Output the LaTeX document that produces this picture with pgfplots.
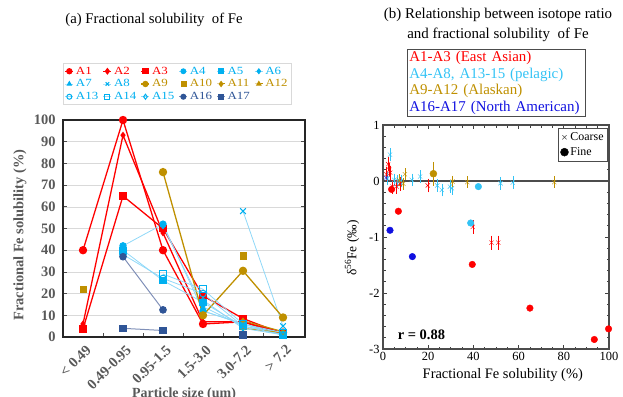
\documentclass[border=0pt]{standalone}
\usepackage{fontspec}
\setmainfont{Liberation Serif}
\newfontfamily\wide[FakeStretch=1.18]{Liberation Serif}
\usepackage{pgfplots}
\pgfplotsset{compat=1.18}
\definecolor{redc}{HTML}{FF0000}
\definecolor{cyanM}{HTML}{00B0F0}
\definecolor{cyanL}{HTML}{8FD8F8}
\definecolor{goldc}{HTML}{BF9000}
\definecolor{navyc}{HTML}{2F5597}
\definecolor{navyL}{HTML}{8090B8}
\definecolor{bluer}{HTML}{1010E0}
\definecolor{tickgray}{HTML}{595959}
\definecolor{cyanT}{HTML}{33C3F5}
\begin{document}
\begin{tikzpicture}
\useasboundingbox (0,0) rectangle (623bp,-397bp);
% ---------------- left panel ----------------
\node[font=\fontsize{14.8}{16}\selectfont] at (154bp,-20bp) {(a) Fractional solubility\ \ of Fe};
\begin{axis}[
  at={(63bp,-337bp)}, anchor=south west, scale only axis,
  width=242bp, height=217bp,
  xmin=-0.5, xmax=5.55, ymin=0, ymax=100,
  xtick={0,...,5},
  xticklabels={< 0.49, 0.49-0.95, 0.95-1.5, 1.5-3.0, 3.0-7.2, > 7.2},
  major x tick style={draw=none},
  minor xtick={0.5,1.5,2.5,3.5,4.5},
  xtick pos=lower,
  ytick={0,10,...,100},
  ymajorgrids, grid style={black!15, line width=0.6pt},
  tick align=inside,
  tick style={black!70, line width=0.8pt},
  major tick length=4bp, minor tick length=4bp,
  axis line style={line width=1.3pt, black!85},
  /pgf/number format/assume math mode=true,
  x tick label style={rotate=45, anchor=north east, xshift=0bp, yshift=-3bp, font=\bfseries\fontsize{14.5}{15}\selectfont, text=tickgray},
  y tick label style={xshift=-4bp, font=\bfseries\fontsize{14.5}{15}\selectfont, text=tickgray},
  xlabel={Particle size (um)},
  xlabel style={font=\bfseries\fontsize{14}{15}\selectfont, text=tickgray, at={(axis description cs:0.5,-0.22)}, anchor=north},
  ylabel={Fractional Fe solubility (\%)},
  ylabel style={font=\bfseries\fontsize{14.5}{16}\selectfont, text=tickgray, at={(axis description cs:-0.178,0.47)}, anchor=center, rotate=0},
  unbounded coords=jump,
  clip=false,
  legend columns=6,
  legend style={at={(0,1.07)}, anchor=south west, draw=black!15, fill=white,
    font=\fontsize{11}{11}\selectfont\wide, inner sep=1.5bp, row sep=0bp,
    /tikz/every odd column/.append style={column sep=0bp},
    /tikz/every even column/.append style={column sep=2.5bp}},
  legend cell align=left,
  legend image code/.code={\draw[mark repeat=2,mark phase=2,mark size=2.5bp] plot coordinates {(0bp,0bp) (4bp,0bp) (8bp,0bp)};},
]
% A1
\addplot[redc, line width=1.3pt, mark=*, mark size=3.5bp] coordinates {(0,40)(1,100)(2,40)(3,6)(4,7)(5,2)};
\addlegendentry{\textcolor{redc}{A1}}
% A2
\addplot[redc, line width=1.3pt, mark=diamond*, mark size=2.5bp] coordinates {(0,6)(1,93)(2,48)(3,7)(4,7)(5,1)};
\addlegendentry{\textcolor{redc}{A2}}
% A3
\addplot[redc, line width=1.3pt, mark=square*, mark size=3.3bp] coordinates {(0,3.7)(1,65)(2,50)(3,19)(4,8.5)(5,1.5)};
\addlegendentry{\textcolor{redc}{A3}}
% A4
\addplot[cyanL, line width=0.8pt, mark=*, mark size=3.3bp, mark options={cyanM}] coordinates {(1,42)(2,52)(3,12)(4,6)(5,1)};
\addlegendentry{\textcolor{cyanM}{A4}}
% A5
\addplot[cyanL, line width=0.8pt, mark=square*, mark size=3.3bp, mark options={cyanM}] coordinates {(1,40)(2,26)(3,16)(4,5)(5,1)};
\addlegendentry{\textcolor{cyanM}{A5}}
% A6
\addplot[cyanL, line width=0.8pt, mark=diamond*, mark size=2.5bp, mark options={cyanM}] coordinates {(2,51)(3,14)(4,5)(5,2)};
\addlegendentry{\textcolor{cyanM}{A6}}
% A7
\addplot[cyanL, line width=0.8pt, mark=triangle*, mark size=2.5bp, mark options={cyanM}] coordinates {(3,12)(4,6)(5,1)};
\addlegendentry{\textcolor{cyanM}{A7}}
% A8
\addplot[cyanL, line width=0.8pt, mark=x, mark size=4bp, mark options={cyanM, line width=1pt}] coordinates {(4,58)(5,5)};
\addlegendentry{\textcolor{cyanM}{A8}}
% A9
\addplot[goldc, line width=1.3pt, mark=*, mark size=3.5bp] coordinates {(2,76)(3,10)(4,30.5)(5,9)};
\addlegendentry{\textcolor{goldc}{A9}}
% A10
\addplot[goldc, only marks, mark=square*, mark size=3.3bp] coordinates {(0,22)(4,37.5)};
\addlegendentry{\textcolor{goldc}{A10}}
% A11
\addplot[goldc, line width=1pt, mark=diamond*, mark size=2.5bp] coordinates {(4,7.5)(5,2.5)};
\addlegendentry{\textcolor{goldc}{A11}}
% A12
\addplot[goldc, line width=1pt, mark=triangle*, mark size=2.5bp] coordinates {(4,4)(5,2)};
\addlegendentry{\textcolor{goldc}{A12}}
% A13
\addplot[cyanL, line width=0.8pt, mark=o, mark size=3.3bp, mark options={cyanM, fill=white, line width=1pt}] coordinates {(1,38)(2,27)(3,20)(4,5)(5,1)};
\addlegendentry{\textcolor{cyanM}{A13}}
% A14
\addplot[cyanL, line width=0.8pt, mark=square, mark size=3.3bp, mark options={cyanM, fill=white, line width=1pt}] coordinates {(2,29)(3,22)(4,6)(5,2)};
\addlegendentry{\textcolor{cyanM}{A14}}
% A15
\addplot[cyanL, line width=0.8pt, mark=diamond, mark size=2.8bp, mark options={cyanM, fill=white, line width=1pt}] coordinates {(3,17)(4,4)(5,1)};
\addlegendentry{\textcolor{cyanM}{A15}}
% A16
\addplot[navyL, line width=1pt, mark=*, mark size=3.3bp, mark options={navyc}] coordinates {(1,37)(2,12.5)};
\addlegendentry{\textcolor{navyc}{A16}}
% A17
\addplot[navyL, line width=1pt, mark=square*, mark size=3.3bp, mark options={navyc}] coordinates {(1,4)(2,3)(3,nan)(4,1)};
\addlegendentry{\textcolor{navyc}{A17}}
\end{axis}
% ---------------- right panel ----------------
\node[font=\fontsize{15}{19.5}\selectfont, align=center] at (498bp,-25bp) {(b) Relationship between isotope ratio\\and fractional solubility\ \ of Fe};
\node[draw=black!70, line width=0.8pt, align=left, anchor=north west, inner sep=2bp,
      font=\fontsize{15}{16.5}\selectfont, text width=174bp] at (407bp,-49bp)
  {\textcolor{redc}{A1-A3 (East Asian)}\\
   \textcolor{cyanT}{A4-A8, A13-15 (pelagic)}\\
   \textcolor{goldc}{A9-A12 (Alaskan)}\\
   \textcolor{bluer}{\mbox{A16-A17 (North American)}}};
\begin{axis}[
  at={(383bp,-349bp)}, anchor=south west, scale only axis,
  width=226bp, height=224bp,
  xmin=0, xmax=100, ymin=-3, ymax=1,
  xtick={0,20,...,100}, ytick={-3,-2,-1,0,1},
  minor x tick num=3, minor y tick num=4,
  tick align=inside,
  tick style={black!75, line width=0.8pt},
  major tick length=4bp, minor tick length=2.5bp,
  axis line style={line width=1.3pt, black!70},
  /pgf/number format/assume math mode=true,
  tick label style={font=\fontsize{12.5}{13}\selectfont},
  xlabel={Fractional Fe solubility (\%)},
  xlabel style={font=\fontsize{14.5}{16}\selectfont, at={(axis description cs:0.53,-0.118)}, anchor=center},
  ylabel={δ\textsuperscript{56}Fe (‰)},
  ylabel style={font=\fontsize{13.5}{15}\selectfont, at={(axis description cs:-0.137,0.45)}, anchor=center},
  legend style={at={(0.995,0.985)}, anchor=north east, draw=black!70, fill=white,
    font=\fontsize{12}{12}\selectfont, inner sep=2bp, row sep=1.5bp},
  legend cell align=left,
  clip=false,
]
\addplot[black!70, line width=1.2pt, forget plot] coordinates {(0,0)(100,0)};
% coarse (x) with error bars
\addplot[only marks, redc, mark=x, mark size=3bp, forget plot,
  error bars/.cd, y dir=both, y fixed=0.07, error mark options={redc}]
  coordinates {(48,-1.1)(51,-1.1)(39.7,-0.82)(2.3,0.3)(2.8,0.2)(1.5,0.12)(4.2,-0.1)(6,-0.1)(7.5,-0.05)(19.8,-0.08)(3.2,0.15)};
\addplot[only marks, cyanT, mark=x, mark size=3bp, forget plot,
  error bars/.cd, y dir=both, y fixed=0.06, error mark options={cyanT}]
  coordinates {(3.1,0.47)(5,0.02)(6.5,0)(12.7,0.02)(16.4,0.08)(26,-0.16)(29.6,-0.1)(52,-0.04)(57.4,-0.03)(2,0.05)(8,0)(24,-0.08)(30.5,-0.13)};
\addplot[only marks, goldc, mark=x, mark size=3bp, forget plot,
  error bars/.cd, y dir=both, y fixed=0.05, error mark options={goldc}]
  coordinates {(9.7,0.12)(9,-0.05)(30.8,-0.01)(37.3,-0.02)(75.8,-0.02)(7,0.02)};
\addplot[only marks, bluer, mark=x, mark size=2.5bp, forget plot] coordinates {(1.3,0.06)};
% fine (filled circles)
\addplot[only marks, redc, mark=*, mark size=3.3bp, forget plot]
  coordinates {(39.5,-1.49)(65,-2.27)(93.5,-2.83)(99.8,-2.64)(6.8,-0.54)(3.8,-0.15)};
\addplot[only marks, bluer, mark=*, mark size=3.3bp, forget plot]
  coordinates {(3.1,-0.88)(13,-1.35)};
\addplot[only marks, cyanT, mark=*, mark size=3.3bp, forget plot]
  coordinates {(42.2,-0.1)(38.8,-0.75)};
\addplot[only marks, goldc, mark=*, mark size=3.5bp, forget plot,
  error bars/.cd, y dir=both, y fixed=0.15, error mark options={goldc}]
  coordinates {(22.3,0.13)};
\addlegendimage{only marks, mark=x, black!70, mark size=3bp}
\addlegendentry{Coarse}
\addlegendimage{only marks, mark=*, black, mark size=4bp}
\addlegendentry{Fine}
\node[anchor=west, font=\bfseries\fontsize{14.5}{16}\selectfont] at (axis cs:5,-2.74) {r = 0.88};
\end{axis}
\end{tikzpicture}
\end{document}
